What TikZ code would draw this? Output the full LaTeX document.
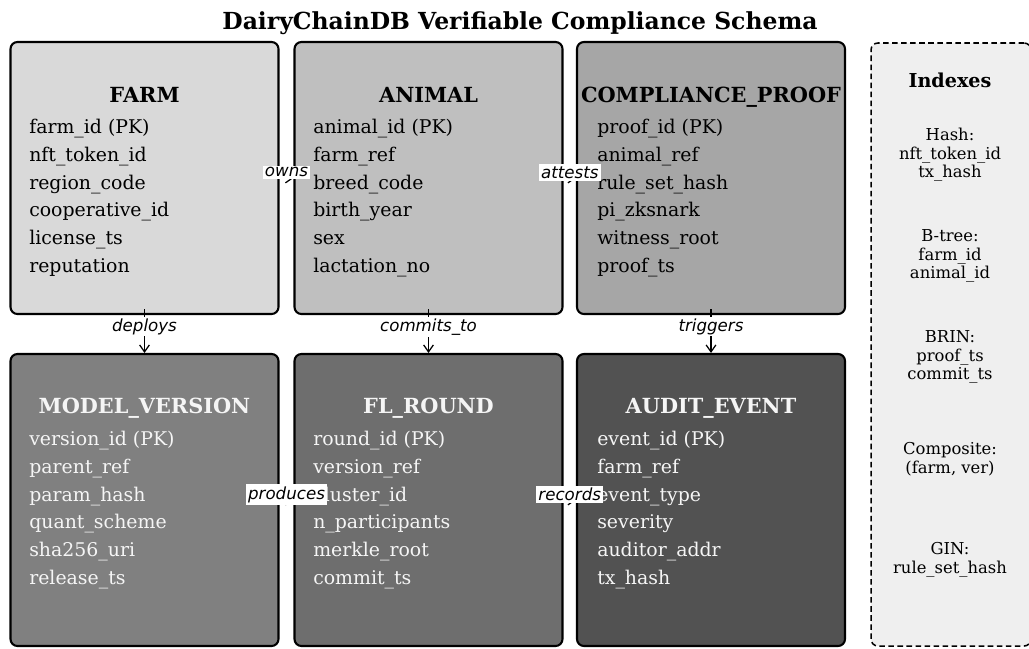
\documentclass[tikz,border=0pt]{standalone}
\usepackage{fontspec}
\setmainfont{DejaVu Serif}
\newfontfamily\labfont{DejaVu Sans}
\usetikzlibrary{arrows.meta}
\definecolor{cA}{RGB}{217,217,217}
\definecolor{cB}{RGB}{191,191,191}
\definecolor{cC}{RGB}{166,166,166}
\definecolor{cD}{RGB}{128,128,128}
\definecolor{cE}{RGB}{110,110,110}
\definecolor{cF}{RGB}{82,82,82}
\definecolor{cIdx}{RGB}{239,239,239}
\definecolor{ltxt}{RGB}{245,245,245}
\tikzset{
  tbl/.style={draw=black, line width=1.5pt, rounded corners=5pt, minimum width=268*0.72pt, inner sep=0pt},
  toprow/.style={tbl, minimum height=272*0.72pt},
  botrow/.style={tbl, minimum height=292*0.72pt},
  ttl/.style={anchor=base, font=\fontsize{15}{18}\selectfont\bfseries, inner sep=0pt},
  fld/.style={anchor=base west, font=\fontsize{13.6}{16}\selectfont, inner sep=0pt},
  conn/.style={draw=black, line width=0.9pt, -{Straight Barb[length=5pt,width=7pt]}},
  hlab/.style={font=\fontsize{12}{14}\selectfont\labfont\itshape, fill=white, inner sep=1.5pt},
  vlab/.style={font=\fontsize{12}{14}\selectfont\labfont\itshape, fill=white, inner sep=1pt},
  idx/.style={align=center, font=\fontsize{11.8}{13.4}\selectfont, inner sep=0pt},
}
\begin{document}
\begin{tikzpicture}[x=0.72pt, y=-0.72pt]
\useasboundingbox (0,0) rectangle (1029,648);
% title
\node[font=\fontsize{16.9}{20}\selectfont\bfseries, anchor=base] (title) at (520,29) {DairyChainDB Verifiable Compliance Schema};
% index panel
\node[draw=black, dash pattern=on 4pt off 2.5pt, line width=1.1pt, rounded corners=5pt, fill=cIdx, minimum width=160*0.72pt, minimum height=603*0.72pt, inner sep=0pt] (idxbox) at (951,344.5) {};
\node[font=\fontsize{13.8}{16}\selectfont\bfseries, anchor=base] (idxttl) at (950,87) {Indexes};
\node[idx] (ih) at (950,155) {Hash:\\nft\_token\_id\\tx\_hash};
\node[idx] (ib) at (950,256) {B-tree:\\farm\_id\\animal\_id};
\node[idx] (ibr) at (950,357) {BRIN:\\proof\_ts\\commit\_ts};
\node[idx] (ic) at (950,459) {Composite:\\(farm, ver)};
\node[idx] (ig) at (950,560) {GIN:\\rule\_set\_hash};
% top row boxes
\node[toprow, fill=cA] (farm) at (144.5,178) {};
\node[toprow, fill=cB] (animal) at (428.5,178) {};
\node[toprow, fill=cC] (proof) at (711,178) {};
% bottom row boxes
\node[botrow, fill=cD] (model) at (144.5,500) {};
\node[botrow, fill=cE] (round) at (428.5,500) {};
\node[botrow, fill=cF] (audit) at (711,500) {};
% FARM
\node[ttl] (farmT) at (144.5,102) {FARM};
\node[fld] (f1) at (29,133) {farm\_id (PK)};
\node[fld] (f2) at (29,161) {nft\_token\_id};
\node[fld] (f3) at (29,189) {region\_code};
\node[fld] (f4) at (29,216) {cooperative\_id};
\node[fld] (f5) at (29,244) {license\_ts};
\node[fld] (f6) at (29,272) {reputation};
% ANIMAL
\node[ttl] (animalT) at (428.5,102) {ANIMAL};
\node[fld] (a1) at (313,133) {animal\_id (PK)};
\node[fld] (a2) at (313,161) {farm\_ref};
\node[fld] (a3) at (313,189) {breed\_code};
\node[fld] (a4) at (313,216) {birth\_year};
\node[fld] (a5) at (313,244) {sex};
\node[fld] (a6) at (313,272) {lactation\_no};
% COMPLIANCE_PROOF
\node[ttl] (proofT) at (711,102) {COMPLIANCE\_PROOF};
\node[fld] (p1) at (597,133) {proof\_id (PK)};
\node[fld] (p2) at (597,161) {animal\_ref};
\node[fld] (p3) at (597,189) {rule\_set\_hash};
\node[fld] (p4) at (597,216) {pi\_zksnark};
\node[fld] (p5) at (597,244) {witness\_root};
\node[fld] (p6) at (597,272) {proof\_ts};
% MODEL_VERSION
\begin{scope}[every node/.append style={text=ltxt}]
\node[ttl] (modelT) at (144.5,413) {MODEL\_VERSION};
\node[fld] (m1) at (29,445) {version\_id (PK)};
\node[fld] (m2) at (29,473) {parent\_ref};
\node[fld] (m3) at (29,501) {param\_hash};
\node[fld] (m4) at (29,528) {quant\_scheme};
\node[fld] (m5) at (29,556) {sha256\_uri};
\node[fld] (m6) at (29,584) {release\_ts};
% FL_ROUND
\node[ttl] (roundT) at (428.5,413) {FL\_ROUND};
\node[fld] (r1) at (313,445) {round\_id (PK)};
\node[fld] (r2) at (313,473) {version\_ref};
\node[fld] (r3) at (313,501) {cluster\_id};
\node[fld] (r4) at (313,528) {n\_participants};
\node[fld] (r5) at (313,556) {merkle\_root};
\node[fld] (r6) at (313,584) {commit\_ts};
% AUDIT_EVENT
\node[ttl] (auditT) at (711,413) {AUDIT\_EVENT};
\node[fld] (e1) at (597,445) {event\_id (PK)};
\node[fld] (e2) at (597,473) {farm\_ref};
\node[fld] (e3) at (597,501) {event\_type};
\node[fld] (e4) at (597,528) {severity};
\node[fld] (e5) at (597,556) {auditor\_addr};
\node[fld] (e6) at (597,584) {tx\_hash};
\end{scope}
% vertical connectors
\draw[conn] ([yshift=4pt]farm.south) -- node[vlab, pos=0.4] {deploys} (model.north);
\draw[conn] ([yshift=4pt]animal.south) -- node[vlab, pos=0.4] {commits\_to} (round.north);
\draw[conn] ([yshift=4pt]proof.south) -- node[vlab, pos=0.4] {triggers} (audit.north);
% horizontal connectors
\draw[conn] (farm.east) -- node[hlab, yshift=4pt] {owns} (animal.west);
\draw[conn] (animal.east) -- node[hlab, yshift=4pt] {attests} (proof.west);
\draw[conn] (model.east) -- node[hlab, yshift=4pt] {produces} (round.west);
\draw[conn] (round.east) -- node[hlab, yshift=4pt] {records} (audit.west);
\end{tikzpicture}
\end{document}
